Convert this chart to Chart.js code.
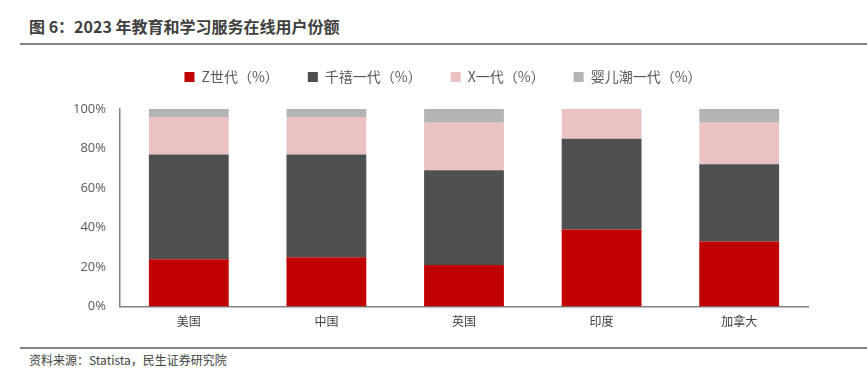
<!DOCTYPE html>
<html><head><meta charset="utf-8">
<script src="https://cdn.jsdelivr.net/npm/chart.js@4"></script>
<style>
html,body{margin:0;padding:0;background:#fff;width:867px;height:374px;overflow:hidden;position:relative;font-family:"Noto Sans CJK SC","Noto Sans",sans-serif;}
#title{position:absolute;left:29px;top:15px;font-size:16px;font-weight:bold;color:#404040;line-height:22px;}
#line1{position:absolute;left:20px;right:0;top:43px;height:2px;background:#808080;}
#line2{position:absolute;left:20px;right:0;top:347px;height:2px;background:#808080;}
#src{position:absolute;left:29px;top:352px;font-size:12px;color:#404040;line-height:16px;}
#wrap{position:absolute;left:0;top:41px;width:867px;height:296px;}
</style></head><body>
<div id="title">图 6：2023 年教育和学习服务在线用户份额</div>
<div id="line1"></div>
<div id="wrap"><canvas id="c"></canvas></div>
<div id="line2"></div>
<div id="src">资料来源：Statista，民生证券研究院</div>
<script>
const categories = ["美国","中国","英国","印度","加拿大"];
const genZ = [24,25,21,39,33];
const millennials = [53,52,48,46,39];
const genX = [19,19,24,15,21];
const boomers = [4,4,7,0,7];
const yTicks = [0,20,40,60,80,100];

const font = '"Noto Sans CJK SC","Noto Sans",sans-serif';
new Chart(document.getElementById('c'), {
  type: 'bar',
  data: {
    labels: categories,
    datasets: [
      {label:'Z世代（%）', data: genZ, backgroundColor:'#C00000'},
      {label:'千禧一代（%）', data: millennials, backgroundColor:'#4E4F51'},
      {label:'X一代（%）', data: genX, backgroundColor:'#EBC2C2'},
      {label:'婴儿潮一代（%）', data: boomers, backgroundColor:'#B4B4B4'}
    ]
  },
  options: {
    responsive:true, maintainAspectRatio:false, animation:false,
    layout:{padding:{left:0,right:59,top:0,bottom:0}},
    datasets:{bar:{categoryPercentage:1, barPercentage:0.58}},
    plugins:{
      tooltip:{enabled:false},
      legend:{
        position:'top',
        labels:{boxWidth:10, boxHeight:10, padding:29, color:'#595959', font:{family:font,size:14}}
      }
    },
    scales:{
      x:{stacked:true, grid:{display:false, drawTicks:false}, border:{color:'#808080', width:1.5},
         ticks:{color:'#404040', font:{family:font,size:12}, padding:8}},
      y:{stacked:true, min:0, max:100, grid:{display:false, drawTicks:false}, border:{color:'#808080', width:1.5},
         afterFit(s){s.width=120;},
         afterBuildTicks(s){s.ticks = yTicks.map(v=>({value:v}));},
         ticks:{color:'#595959', font:{family:'"Open Sans","Liberation Sans",sans-serif',size:13}, padding:14, callback:v=>v+'%'}}
    }
  },
  plugins:[{id:'legendH', afterInit(chart){
    const lg = chart.legend; const f = lg.fit; lg.fit = function(){ f.call(this); this.height = 68; };
  }, afterLayout(chart){
    chart.legend.left += 39; chart.legend.right += 39;
  }}]
});
</script>
</body></html>
